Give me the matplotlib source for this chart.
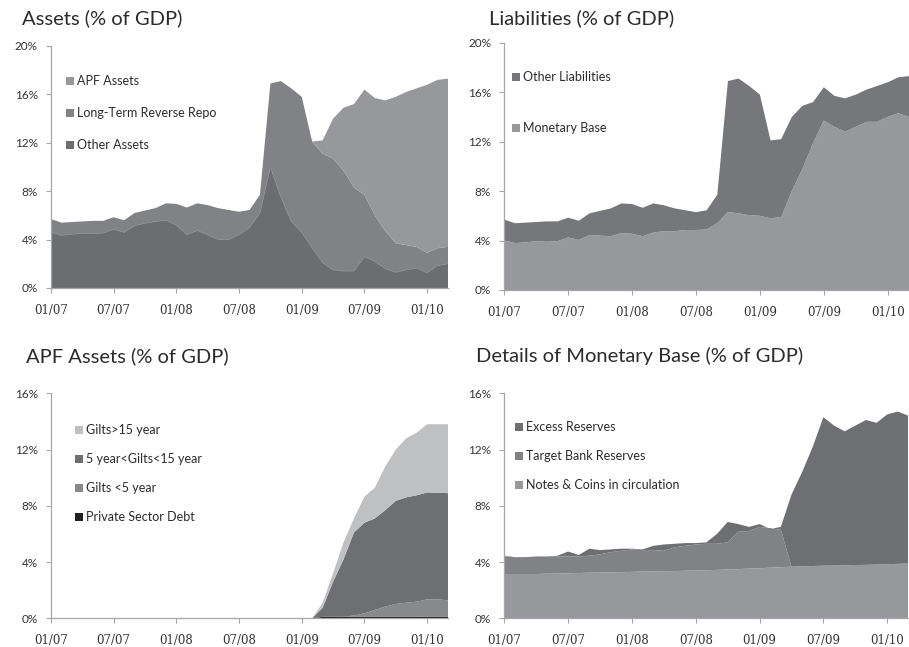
import matplotlib
matplotlib.use("Agg")
import matplotlib.pyplot as plt
from matplotlib.patches import Rectangle
import numpy as np

# ---------------- data (monthly, 01/07 .. 03/10) ----------------
months = list(range(39))
tick_pos = [0, 6, 12, 18, 24, 30, 36]
tick_labels = ["01/07", "07/07", "01/08", "07/08", "01/09", "07/09", "01/10"]

# Assets panel
total_bs = [5.7, 5.4, 5.45, 5.5, 5.55, 5.55, 5.85, 5.6, 6.2, 6.4,
            6.6, 7.0, 6.95, 6.65, 7.0, 6.85, 6.6, 6.45, 6.3, 6.45,
            7.7, 16.9, 17.1, 16.5, 15.8, 12.1, 12.2, 14.0, 14.9, 15.2,
            16.4, 15.7, 15.5, 15.8, 16.2, 16.5, 16.8, 17.2, 17.3]
other_assets = [4.6, 4.35, 4.45, 4.5, 4.5, 4.55, 4.85, 4.6, 5.15, 5.35,
                5.5, 5.6, 5.2, 4.4, 4.75, 4.4, 4.0, 4.0, 4.4, 5.0,
                6.2, 10.0, 7.5, 5.5, 4.6, 3.3, 2.1, 1.5, 1.4, 1.4,
                2.6, 2.2, 1.6, 1.3, 1.5, 1.65, 1.25, 1.85, 2.0]
ltrr_top = [5.7, 5.4, 5.45, 5.5, 5.55, 5.55, 5.85, 5.6, 6.2, 6.4,
            6.6, 7.0, 6.95, 6.65, 7.0, 6.85, 6.6, 6.45, 6.3, 6.45,
            7.7, 16.9, 17.1, 16.5, 15.8, 12.1, 11.1, 10.7, 9.7, 8.3,
            7.7, 6.0, 4.7, 3.7, 3.55, 3.4, 2.9, 3.3, 3.4]

# Liabilities panel
monetary_base = [4.0, 3.8, 3.85, 3.95, 3.9, 3.95, 4.25, 4.05, 4.45, 4.4,
                 4.35, 4.6, 4.55, 4.35, 4.65, 4.75, 4.75, 4.85, 4.85, 4.9,
                 5.4, 6.3, 6.2, 6.05, 6.0, 5.8, 5.9, 8.0, 9.8, 11.9,
                 13.7, 13.2, 12.8, 13.2, 13.6, 13.6, 14.0, 14.3, 14.0]

# APF panel (cumulative tops)
private_debt = [0] * 26 + [0.1, 0.12, 0.12, 0.12, 0.12, 0.12, 0.12, 0.12,
                           0.12, 0.12, 0.1, 0.1, 0.1]
gilts_lt5_top = [0] * 26 + [0.1, 0.12, 0.12, 0.2, 0.35, 0.6, 0.83, 1.02,
                            1.11, 1.18, 1.35, 1.35, 1.28]
gilts_5_15_top = [0] * 26 + [0.75, 2.6, 4.2, 6.1, 6.8, 7.1, 7.7, 8.35,
                             8.6, 8.75, 8.95, 8.93, 8.9]
gilts_gt15_top = [0] * 26 + [1.1, 3.2, 5.4, 7.1, 8.65, 9.3, 10.8, 12.0,
                             12.8, 13.2, 13.8, 13.8, 13.8]

# Monetary base details (cumulative tops)
notes_coins = [3.15, 3.15, 3.15, 3.15, 3.17, 3.18, 3.2, 3.22, 3.24, 3.25,
               3.27, 3.28, 3.3, 3.32, 3.33, 3.35, 3.36, 3.38, 3.4, 3.42,
               3.44, 3.47, 3.5, 3.53, 3.56, 3.6, 3.63, 3.67, 3.7, 3.72,
               3.74, 3.75, 3.77, 3.79, 3.8, 3.82, 3.85, 3.87, 3.9]
target_top = [4.4, 4.35, 4.35, 4.4, 4.4, 4.4, 4.4, 4.4, 4.45, 4.55,
              4.7, 4.8, 4.9, 4.85, 4.85, 4.8, 5.05, 5.15, 5.25, 5.3,
              5.3, 5.4, 6.15, 6.2, 6.5, 6.4, 6.3, 3.67, 3.7, 3.72,
              3.74, 3.75, 3.77, 3.79, 3.8, 3.82, 3.85, 3.87, 3.9]
mb_total = [4.45, 4.35, 4.35, 4.4, 4.4, 4.45, 4.75, 4.5, 4.95, 4.85,
            4.9, 4.95, 4.95, 4.9, 5.15, 5.25, 5.3, 5.35, 5.35, 5.4,
            6.0, 6.85, 6.7, 6.5, 6.7, 6.35, 6.5, 8.8, 10.4, 12.2,
            14.3, 13.7, 13.3, 13.7, 14.1, 13.9, 14.5, 14.7, 14.4]

# ---------------- styling ----------------
W, H = 909, 647
C_LIGHT = "#97989c"
C_MID = "#818286"
C_DARK = "#6c6d71"
C_LIGHTEST = "#bfc0c2"
C_BLACK = "#231f20"
SPINE = "#a6a6a6"
TXT = "#2b2b2b"

plt.rcParams["font.family"] = ["Lato", "DejaVu Sans"]

fig = plt.figure(figsize=(W / 100, H / 100), dpi=100)
x = np.array(months)


def px_axes(left, right, bottom, top):
    return fig.add_axes([left / W, 1 - bottom / H, (right - left) / W, (bottom - top) / H])


def style(ax, ymax):
    ax.set_xlim(0, 38)
    ax.set_ylim(0, ymax)
    for s in ["top", "right"]:
        ax.spines[s].set_visible(False)
    for s in ["left", "bottom"]:
        ax.spines[s].set_color(SPINE)
        ax.spines[s].set_linewidth(0.9)
    ax.set_xticks(tick_pos)
    ax.set_xticklabels(tick_labels, family="DejaVu Serif", fontsize=8.5, color="#333333")
    yt = list(range(0, ymax + 1, 4))
    ax.set_yticks(yt)
    ax.set_yticklabels([f"{v}%" for v in yt], fontsize=8.5, color="#333333")
    ax.tick_params(axis="both", direction="out", length=3.5, width=0.8, color=SPINE)
    ax.tick_params(axis="x", pad=8)
    ax.tick_params(axis="y", pad=6)
    ax.set_facecolor("none")


def legend(items, x0, y0, dy, fs=9):
    for i, (lab, col) in enumerate(items):
        yc = y0 + i * dy
        fig.patches.append(Rectangle(((x0) / W, 1 - (yc + 4) / H), 8 / W, 8 / H,
                                     transform=fig.transFigure, facecolor=col,
                                     edgecolor="none"))
        fig.text((x0 + 11) / W, 1 - yc / H, lab, fontsize=fs, color=TXT,
                 va="center", ha="left")


TFS = 14.5

# Top-left: Assets
ax1 = px_axes(51, 448, 288, 46)
o = np.array(other_assets)
l = np.array(ltrr_top) - o
a = np.array(total_bs) - np.array(ltrr_top)
ax1.stackplot(x, o, l, a, colors=[C_DARK, C_MID, C_LIGHT], edgecolor="none", linewidth=0)
ax1.plot(x, o, color="#8a8b8f", lw=0.6)
style(ax1, 20)
fig.text(22 / W, 1 - 18 / H, "Assets (% of GDP)", fontsize=TFS, color=TXT, va="center")
legend([("APF Assets", C_LIGHT), ("Long-Term Reverse Repo", C_MID), ("Other Assets", C_DARK)],
       66, 81, 32)

# Top-right: Liabilities
ax2 = px_axes(504.3, 909, 290, 42.7)
mb = np.array(monetary_base)
ol = np.array(total_bs) - mb
ax2.stackplot(x, mb, ol, colors=[C_LIGHT, "#76777b"], edgecolor="none", linewidth=0)
style(ax2, 20)
fig.text(489 / W, 1 - 18 / H, "Liabilities (% of GDP)", fontsize=TFS, color=TXT, va="center")
legend([("Other Liabilities", "#76777b"), ("Monetary Base", C_LIGHT)], 512, 77, 51)

# Bottom-left: APF assets
ax3 = px_axes(51, 448, 618.3, 393.3)
p = np.array(private_debt, dtype=float)
g5 = np.array(gilts_lt5_top) - p
g515 = np.array(gilts_5_15_top) - np.array(gilts_lt5_top)
g15 = np.array(gilts_gt15_top) - np.array(gilts_5_15_top)
ax3.stackplot(x, p, g5, g515, g15, colors=[C_BLACK, "#88898d", "#6e6f73", C_LIGHTEST],
              edgecolor="none", linewidth=0)
style(ax3, 16)
fig.text(26 / W, 1 - 356 / H, "APF Assets (% of GDP)", fontsize=TFS, color=TXT, va="center")
legend([("Gilts>15 year", C_LIGHTEST), ("5 year<Gilts<15 year", "#6e6f73"),
        ("Gilts <5 year", "#88898d"), ("Private Sector Debt", C_BLACK)], 75, 430, 29)

# Bottom-right: details of monetary base
ax4 = px_axes(504.3, 908.5, 618.3, 393.3)
nc = np.array(notes_coins)
tb = np.array(target_top) - nc
ex = np.array(mb_total) - np.array(target_top)
ax4.stackplot(x, nc, tb, ex, colors=[C_LIGHT, C_MID, "#6e6f73"], edgecolor="none", linewidth=0)
style(ax4, 16)
fig.text(476 / W, 1 - 356 / H, "Details of Monetary Base (% of GDP)", fontsize=TFS, color=TXT,
         va="center")
legend([("Excess Reserves", "#6e6f73"), ("Target Bank Reserves", C_MID),
        ("Notes & Coins in circulation", C_LIGHT)], 515, 427, 29)

fig.savefig("out.png", dpi=100)
